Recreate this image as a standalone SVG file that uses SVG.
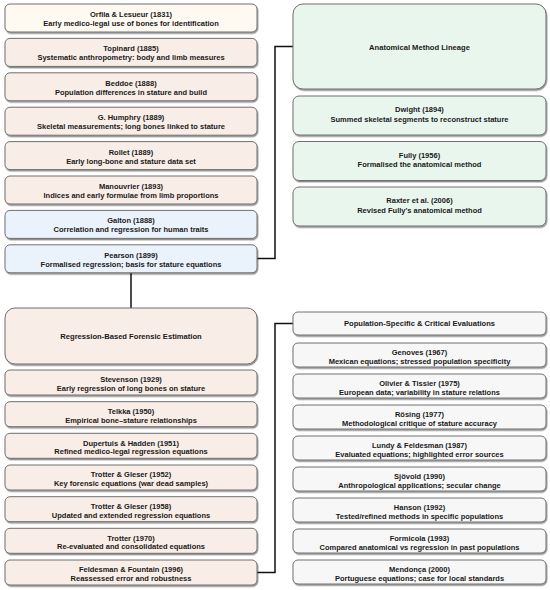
<svg xmlns="http://www.w3.org/2000/svg" width="550" height="590" viewBox="0 0 550 590">
<defs>
<filter id="sh" x="-5%" y="-20%" width="110%" height="150%">
<feDropShadow dx="0.8" dy="1.4" stdDeviation="0.7" flood-color="#000" flood-opacity="0.45"/>
</filter>
<style>
rect{stroke:#707070;stroke-width:1;filter:url(#sh)}
.cr{fill:#FEF9F1}
.pk{fill:#F9EDE7}
.bl{fill:#EAF2FC}
.gr{fill:#E9F6EE}
.gy{fill:#F7F7F7}
text{font-family:"Liberation Sans",Arial,sans-serif;font-weight:bold;font-size:7.5px;fill:#1a1a1a;text-anchor:middle}
.t{font-size:7.6px}
.conn path{fill:none;stroke:#111;stroke-width:1.5}
</style>
</defs>
<rect width="550" height="590" fill="#fff" style="filter:none;stroke:none"/>
<g class="conn">
<path d="M257,258.5 H275 V46.5 H293"/>
<path d="M131,272.8 V308"/>
<path d="M257,572.5 H275 V323.5 H293"/>
</g>
<g id="orfila"><rect class="cr" x="5" y="4" width="252" height="28" rx="5"/><text x="131" y="17">Orfila &amp; Lesueur (1831)</text><text x="131" y="26">Early medico-legal use of bones for identification</text></g>
<g id="topinard"><rect class="pk" x="5" y="38.4" width="252" height="28" rx="5"/><text x="131" y="51.4">Topinard (1885)</text><text x="131" y="60.4">Systematic anthropometry: body and limb measures</text></g>
<g id="beddoe"><rect class="pk" x="5" y="72.8" width="252" height="28" rx="5"/><text x="131" y="85.8">Beddoe (1888)</text><text x="131" y="94.8">Population differences in stature and build</text></g>
<g id="humphry"><rect class="pk" x="5" y="107.2" width="252" height="28" rx="5"/><text x="131" y="120.2">G. Humphry (1889)</text><text x="131" y="129.2">Skeletal measurements; long bones linked to stature</text></g>
<g id="rollet"><rect class="pk" x="5" y="141.6" width="252" height="28" rx="5"/><text x="131" y="154.6">Rollet (1889)</text><text x="131" y="163.6">Early long-bone and stature data set</text></g>
<g id="manouvrier"><rect class="pk" x="5" y="176" width="252" height="28" rx="5"/><text x="131" y="189">Manouvrier (1893)</text><text x="131" y="198">Indices and early formulae from limb proportions</text></g>
<g id="galton"><rect class="bl" x="5" y="210.4" width="252" height="28" rx="5"/><text x="131" y="223.4">Galton (1888)</text><text x="131" y="232.4">Correlation and regression for human traits</text></g>
<g id="pearson"><rect class="bl" x="5" y="244.8" width="252" height="28" rx="5"/><text x="131" y="257.8">Pearson (1899)</text><text x="131" y="266.8">Formalised regression; basis for stature equations</text></g>
<g id="regression"><rect class="pk" x="5" y="308" width="252" height="56" rx="10"/><text class="t" x="131" y="338.5">Regression-Based Forensic Estimation</text></g>
<g id="stevenson"><rect class="pk" x="5" y="370" width="252" height="25" rx="5"/><text x="131" y="382.3">Stevenson (1929)</text><text x="131" y="390.8">Early regression of long bones on stature</text></g>
<g id="telkka"><rect class="pk" x="5" y="401.7" width="252" height="25" rx="5"/><text x="131" y="414">Telkka (1950)</text><text x="131" y="422.5">Empirical bone–stature relationships</text></g>
<g id="dupertuis"><rect class="pk" x="5" y="433.3" width="252" height="25" rx="5"/><text x="131" y="445.6">Dupertuis &amp; Hadden (1951)</text><text x="131" y="454.1">Refined medico-legal regression equations</text></g>
<g id="trotter-gleser-1952"><rect class="pk" x="5" y="465" width="252" height="25" rx="5"/><text x="131" y="477.3">Trotter &amp; Gleser (1952)</text><text x="131" y="485.8">Key forensic equations (war dead samples)</text></g>
<g id="trotter-gleser-1958"><rect class="pk" x="5" y="496.7" width="252" height="25" rx="5"/><text x="131" y="509">Trotter &amp; Gleser (1958)</text><text x="131" y="517.5">Updated and extended regression equations</text></g>
<g id="trotter-1970"><rect class="pk" x="5" y="528.3" width="252" height="25" rx="5"/><text x="131" y="540.6">Trotter (1970)</text><text x="131" y="549.1">Re-evaluated and consolidated equations</text></g>
<g id="feldesman"><rect class="pk" x="5" y="560" width="252" height="25" rx="5"/><text x="131" y="572.3">Feldesman &amp; Fountain (1996)</text><text x="131" y="580.8">Reassessed error and robustness</text></g>
<g id="anatomical"><rect class="gr" x="293" y="4" width="253" height="85" rx="10"/><text class="t" x="419.5" y="49.5">Anatomical Method Lineage</text></g>
<g id="dwight"><rect class="gr" x="293" y="96" width="253" height="39" rx="6"/><text x="419.5" y="112.3">Dwight (1894)</text><text x="419.5" y="121.8">Summed skeletal segments to reconstruct stature</text></g>
<g id="fully"><rect class="gr" x="293" y="141.5" width="253" height="39" rx="6"/><text x="419.5" y="157.8">Fully (1956)</text><text x="419.5" y="167.3">Formalised the anatomical method</text></g>
<g id="raxter"><rect class="gr" x="293" y="187" width="253" height="39" rx="6"/><text x="419.5" y="203.3">Raxter et al. (2006)</text><text x="419.5" y="212.8">Revised Fully's anatomical method</text></g>
<g id="population"><rect class="gy" x="293" y="312" width="253" height="23" rx="5"/><text class="t" x="419.5" y="326.3">Population-Specific &amp; Critical Evaluations</text></g>
<g id="genoves"><rect class="gy" x="293" y="343" width="253" height="24" rx="5"/><text x="419.5" y="355">Genoves (1967)</text><text x="419.5" y="363.5">Mexican equations; stressed population specificity</text></g>
<g id="olivier"><rect class="gy" x="293" y="374" width="253" height="24" rx="5"/><text x="419.5" y="386">Olivier &amp; Tissier (1975)</text><text x="419.5" y="394.5">European data; variability in stature relations</text></g>
<g id="rosing"><rect class="gy" x="293" y="405" width="253" height="24" rx="5"/><text x="419.5" y="417">Rösing (1977)</text><text x="419.5" y="425.5">Methodological critique of stature accuracy</text></g>
<g id="lundy"><rect class="gy" x="293" y="436" width="253" height="24" rx="5"/><text x="419.5" y="448">Lundy &amp; Feldesman (1987)</text><text x="419.5" y="456.5">Evaluated equations; highlighted error sources</text></g>
<g id="sjovold"><rect class="gy" x="293" y="467" width="253" height="24" rx="5"/><text x="419.5" y="479">Sjövold (1990)</text><text x="419.5" y="487.5">Anthropological applications; secular change</text></g>
<g id="hanson"><rect class="gy" x="293" y="498" width="253" height="24" rx="5"/><text x="419.5" y="510">Hanson (1992)</text><text x="419.5" y="518.5">Tested/refined methods in specific populations</text></g>
<g id="formicola"><rect class="gy" x="293" y="529" width="253" height="24" rx="5"/><text x="419.5" y="541">Formicola (1993)</text><text x="419.5" y="549.5">Compared anatomical vs regression in past populations</text></g>
<g id="mendonca"><rect class="gy" x="293" y="560" width="253" height="24" rx="5"/><text x="419.5" y="572">Mendonça (2000)</text><text x="419.5" y="580.5">Portuguese equations; case for local standards</text></g>
</svg>
